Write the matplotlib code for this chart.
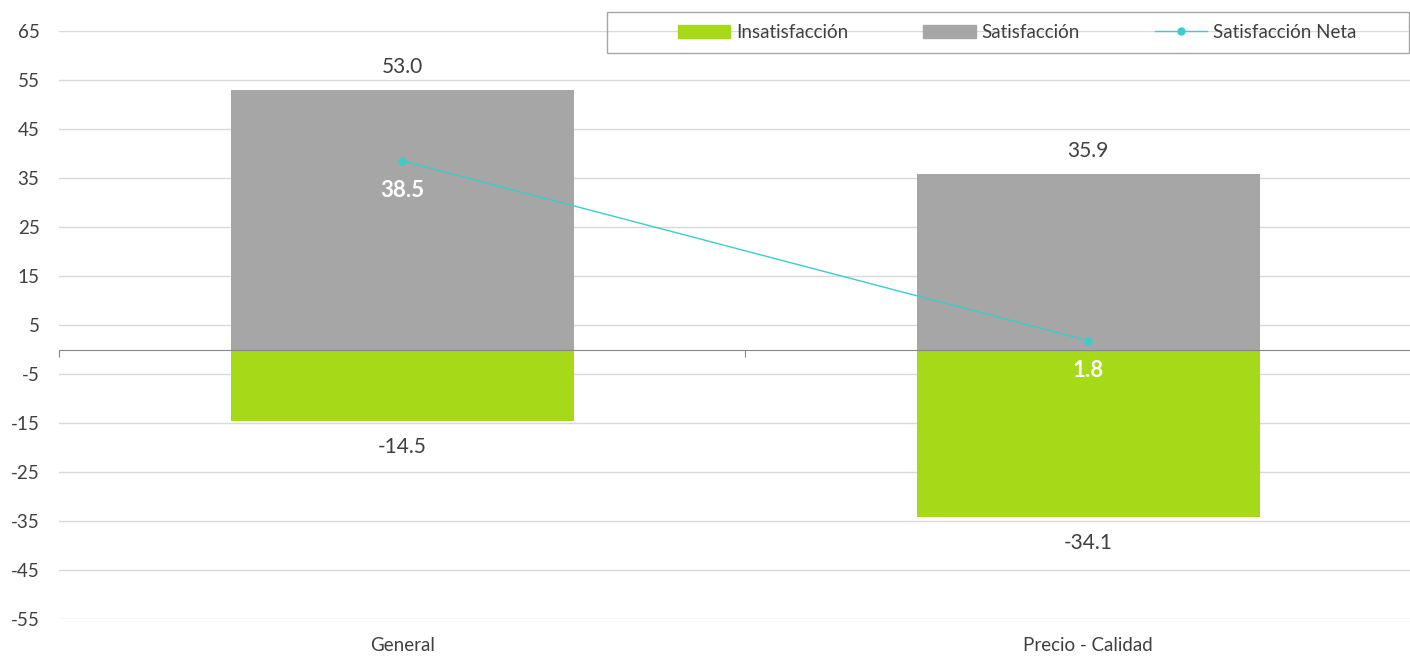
import matplotlib.pyplot as plt
from matplotlib.patches import Patch, Rectangle
from matplotlib.lines import Line2D

plt.rcParams['font.family'] = ['Lato', 'DejaVu Sans']

# datos
categorias = ['General', 'Precio - Calidad']
insatisfaccion = [-14.5, -34.1]
satisfaccion = [53.0, 35.9]
satisfaccion_neta = [38.5, 1.8]
yticks = [65, 55, 45, 35, 25, 15, 5, -5, -15, -25, -35, -45, -55]

verde = '#a6d918'
gris = '#a6a6a6'
turquesa = '#3ccccc'
texto = '#404040'

fig = plt.figure(figsize=(14.1, 6.56), dpi=100)
ax = fig.add_axes([59 / 1410, 1 - 619 / 656, 1 - 59 / 1410, (619 - 31) / 656])

x = list(range(len(categorias)))
ax.bar(x, satisfaccion, width=0.5, color=gris, zorder=2)
ax.bar(x, insatisfaccion, width=0.5, color=verde, zorder=2)
ax.plot(x, satisfaccion_neta, color=turquesa, lw=1, marker='o', ms=5, zorder=4)

ax.set_yticks(yticks)
ax.set_yticklabels([str(v) for v in yticks])
ax.grid(axis='y', color='#d9d9d9', lw=1, zorder=0)
ax.tick_params(axis='y', length=0, pad=14, labelsize=13.5, labelcolor=texto)
for s in ['left', 'right', 'top']:
    ax.spines[s].set_visible(False)

# linea de cero con marcas
ax.spines['bottom'].set_position(('data', 0))
ax.spines['bottom'].set_color('#868686')
ax.spines['bottom'].set_zorder(3)
ax.set_xticks([-0.5, 0, 0.5, 1])
ax.set_xticklabels([])
ax.tick_params(axis='x', length=5, color='#868686', direction='out')
ax.set_ylim(-55, 65)
ax.set_xlim(-0.5, 1.469)

sec = ax.secondary_xaxis(0.0)
sec.set_xticks(x)
sec.set_xticklabels(categorias)
sec.tick_params(length=0, pad=13, labelsize=13.5, labelcolor=texto)
sec.spines['bottom'].set_visible(False)

# etiquetas
for i in x:
    ax.annotate(f'{satisfaccion[i]:.1f}', (i, satisfaccion[i]), xytext=(0, 23),
                textcoords='offset pixels', ha='center', va='center', fontsize=15, color=texto)
    ax.annotate(f'{insatisfaccion[i]:.1f}', (i, insatisfaccion[i]), xytext=(0, -26),
                textcoords='offset pixels', ha='center', va='center', fontsize=15, color=texto)
    ax.annotate(f'{satisfaccion_neta[i]:.1f}', (i, satisfaccion_neta[i]), xytext=(0, -30),
                textcoords='offset pixels', ha='center', va='center', fontsize=16,
                color='white', fontweight='bold', zorder=5)

# leyenda con marco fijo
marco = Rectangle((607 / 1410, 1 - 53 / 656), (1410 - 607) / 1410 - 0.0005, 41 / 656,
                  transform=fig.transFigure, fill=False, edgecolor='#a6a6a6', lw=1)
fig.add_artist(marco)
handles = [Patch(color=verde), Patch(color=gris),
           Line2D([], [], color=turquesa, lw=1, marker='o', ms=5)]
fig.legend(handles, ['Insatisfacción', 'Satisfacción', 'Satisfacción Neta'],
           loc='center', bbox_to_anchor=((607 + 1410) / 2 / 1410 + 0.006, 1 - 32.5 / 656),
           ncol=3, frameon=False, fontsize=13.5, labelcolor=texto,
           handlelength=2.8, handleheight=0.75, handletextpad=0.3, columnspacing=4.0,
           borderaxespad=0)

fig.savefig('out.png', dpi=100)
